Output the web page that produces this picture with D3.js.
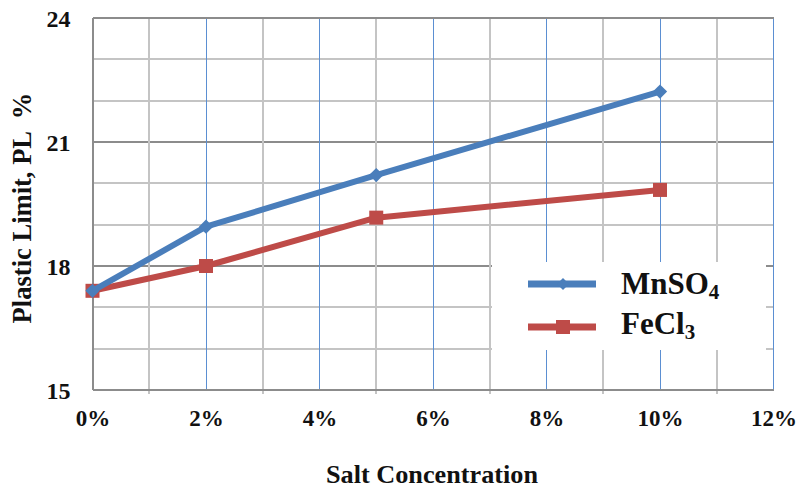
<!DOCTYPE html>
<html><head><meta charset="utf-8">
<script src="https://cdn.jsdelivr.net/npm/d3@7"></script>
<style>body{margin:0;background:#fff}</style>
</head><body><svg id="c" width="803" height="489"></svg>
<script>
const concentrations = [0, 2, 5, 10];
const mnso4 = [17.4, 18.95, 20.2, 22.22];
const fecl3 = [17.4, 18.0, 19.17, 19.84];
const xTicks = [0, 2, 4, 6, 8, 10, 12];
const yTicks = [15, 18, 21, 24];

const FONT = '"Liberation Serif", "Times New Roman", serif';
const svg = d3.select("#c");
const L = 92.5, R = 773.5, T = 18, B = 390;
const x = d3.scaleLinear().domain([0, 12]).range([L, R]);
const y = d3.scaleLinear().domain([15, 24]).range([B, T]);

function fitWidth(sel, target) {
  const w = sel.node().getComputedTextLength();
  const fs = parseFloat(sel.style("font-size"));
  sel.style("font-size", (fs * target / w) + "px");
}

const g = svg.append("g").attr("shape-rendering", "crispEdges");
d3.range(15, 25).forEach(v => {
  g.append("line").attr("x1", L).attr("x2", R).attr("y1", y(v)).attr("y2", y(v))
   .attr("stroke", yTicks.includes(v) ? "#8c8c8c" : "#c4c4c4").attr("stroke-width", 2);
});
d3.range(1, 13).forEach(v => {
  g.append("line").attr("x1", x(v)).attr("x2", x(v)).attr("y1", T).attr("y2", B + (v % 2 ? 4 : 0))
   .attr("stroke", v % 2 ? "#c4c4c4" : "#5b8fd2").attr("stroke-width", v % 2 ? 2 : 1);
});
g.append("line").attr("x1", L).attr("x2", R).attr("y1", T).attr("y2", T).attr("stroke", "#8c8c8c").attr("stroke-width", 2);
g.append("line").attr("x1", L).attr("x2", L).attr("y1", T).attr("y2", B).attr("stroke", "#8c8c8c").attr("stroke-width", 2);
g.append("line").attr("x1", L).attr("x2", R).attr("y1", B).attr("y2", B).attr("stroke", "#8c8c8c").attr("stroke-width", 2);

const yAxis = d3.axisLeft(y).tickValues(yTicks).tickSize(0).tickPadding(22);
svg.append("g").attr("transform", `translate(${L},0)`).call(yAxis)
  .call(a => a.select(".domain").remove())
  .selectAll("text").attr("fill", "#111").attr("dy", "0.34em")
  .style("font-family", FONT).style("font-weight", "bold").style("font-size", "24px");
const xAxis = d3.axisBottom(x).tickValues(xTicks).tickSize(0).tickPadding(20).tickFormat(d => d + "%");
svg.append("g").attr("transform", `translate(0,${B})`).call(xAxis)
  .call(a => a.select(".domain").remove())
  .selectAll("text").attr("fill", "#111")
  .style("font-family", FONT).style("font-weight", "bold").style("font-size", "23px");

const xt = svg.append("text").attr("x", 432).attr("y", 483).attr("text-anchor", "middle").attr("fill", "#111")
  .style("font-family", FONT).style("font-weight", "bold").style("font-size", "24px").text("Salt Concentration");
fitWidth(xt, 212);
const yt = svg.append("text").attr("transform", "translate(31,208) rotate(-90)").attr("text-anchor", "middle").attr("fill", "#111")
  .attr("xml:space", "preserve")
  .style("font-family", FONT).style("font-weight", "bold").style("font-size", "23px").text("Plastic Limit, PL  %");
fitWidth(yt, 231);

const line = d3.line().x((d, i) => x(concentrations[i])).y(d => y(d));
const blue = "#4a7ebb", red = "#be4b48";
svg.append("path").datum(fecl3).attr("d", line).attr("fill", "none").attr("stroke", red).attr("stroke-width", 6).attr("stroke-linejoin", "round");
svg.selectAll(".sq").data(fecl3).enter().append("rect")
  .attr("x", (d, i) => x(concentrations[i]) - 7).attr("y", d => y(d) - 7).attr("width", 14).attr("height", 14).attr("fill", red);
svg.append("path").datum(mnso4).attr("d", line).attr("fill", "none").attr("stroke", blue).attr("stroke-width", 6).attr("stroke-linejoin", "round");
svg.selectAll(".dm").data(mnso4).enter().append("path")
  .attr("d", d3.symbol().type(d3.symbolDiamond2).size(130))
  .attr("transform", (d, i) => `translate(${x(concentrations[i])},${y(d)})`).attr("fill", blue);

const lg = svg.append("g");
lg.append("rect").attr("x", 492).attr("y", 262).attr("width", 274).attr("height", 88).attr("fill", "#fff");
lg.append("line").attr("x1", 528).attr("x2", 596).attr("y1", 284).attr("y2", 284).attr("stroke", blue).attr("stroke-width", 7);
lg.append("path").attr("d", d3.symbol().type(d3.symbolDiamond2).size(90)).attr("transform", "translate(563,284)").attr("fill", blue);
lg.append("line").attr("x1", 528).attr("x2", 596).attr("y1", 327).attr("y2", 327).attr("stroke", red).attr("stroke-width", 7);
lg.append("rect").attr("x", 556).attr("y", 320).attr("width", 14).attr("height", 14).attr("fill", red);
const t1 = lg.append("text").attr("x", 621).attr("y", 294).attr("fill", "#111")
  .style("font-family", FONT).style("font-weight", "bold").style("font-size", "31px");
t1.append("tspan").text("MnSO");
t1.append("tspan").style("font-size", "21px").attr("dy", 5).text("4");
const t2 = lg.append("text").attr("x", 621).attr("y", 334).attr("fill", "#111")
  .style("font-family", FONT).style("font-weight", "bold").style("font-size", "31px");
t2.append("tspan").text("FeCl");
t2.append("tspan").style("font-size", "21px").attr("dy", 5).text("3");
</script></body></html>
